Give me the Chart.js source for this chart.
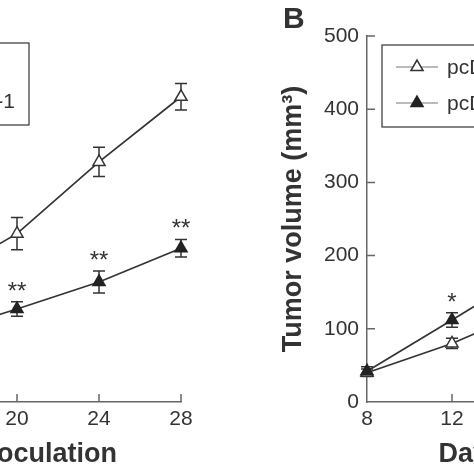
<!DOCTYPE html>
<html>
<head>
<meta charset="utf-8">
<script src="https://cdn.jsdelivr.net/npm/chart.js@4.4.1/dist/chart.umd.min.js"></script>
<style>
html, body { margin: 0; padding: 0; width: 474px; height: 474px; overflow: hidden; background: #fff; }
.panel { position: absolute; top: 0; }
#wrapA { left: -319px; width: 520px; height: 474px; }
#wrapB { left: 277px; width: 535px; height: 474px; }
</style>
</head>
<body>
<div class="panel" id="wrapA"><canvas id="chartA" width="520" height="474"></canvas></div>
<div class="panel" id="wrapB"><canvas id="chartB" width="535" height="474"></canvas></div>
<script>
// shared axis ticks
const dayTicks = [8, 12, 16, 20, 24, 28];
const volumeTicks = [0, 100, 200, 300, 400, 500];

// panel A (only the right part is in the picture)
const daysA = [16, 20, 24, 28];
const ctrlA = [165, 230, 328, 417];
const ctrlErrA = [20, 22, 20, 18];
const treatA = [92, 127, 164, 210];
const treatErrA = [10, 10, 15, 12];
const starsA = ['', '**', '**', '**'];
const labelsA = ['sh-NC', 'sh-target-1'];

// panel B (only the left part is in the picture)
const daysB = [8, 12, 16];
const ctrlB = [40, 80, 130];
const ctrlErrB = [5, 7, 10];
const treatB = [42, 112, 183];
const treatErrB = [6, 10, 12];
const starsB = ['', '*', ''];
const labelsB = ['pcDNA3.1', 'pcDNA3.1-target'];

const INK = '#333';
const AXIS = '#666';
const FONT = 'Liberation Sans, Arial, sans-serif';

const figurePlugin = {
    id: 'figure',
    beforeDatasetsDraw(chart) {
        const {ctx, scales: {x, y}} = chart;
        ctx.save();
        ctx.strokeStyle = INK;
        ctx.lineWidth = 1.5;
        chart.data.datasets.forEach(ds => {
            ds.data.forEach((p, i) => {
                const px = x.getPixelForValue(p.x);
                const top = y.getPixelForValue(p.y + ds.err[i]);
                const bot = y.getPixelForValue(p.y - ds.err[i]);
                ctx.beginPath();
                ctx.moveTo(px, top); ctx.lineTo(px, bot);
                ctx.moveTo(px - 6, top); ctx.lineTo(px + 6, top);
                ctx.moveTo(px - 6, bot); ctx.lineTo(px + 6, bot);
                ctx.stroke();
            });
        });
        // inward tick marks
        ctx.strokeStyle = AXIS;
        ctx.beginPath();
        dayTicks.slice(1).forEach(v => {
            const px = x.getPixelForValue(v);
            ctx.moveTo(px, y.bottom); ctx.lineTo(px, y.bottom - 8);
        });
        volumeTicks.slice(1).forEach(v => {
            const py = y.getPixelForValue(v);
            ctx.moveTo(x.left, py); ctx.lineTo(x.left + 8, py);
        });
        ctx.stroke();
        ctx.restore();
    },
    afterDatasetsDraw(chart) {
        const {ctx, scales: {x, y}} = chart;
        ctx.save();
        ctx.fillStyle = INK;
        ctx.font = '24px ' + FONT;
        ctx.textAlign = 'center';
        ctx.textBaseline = 'alphabetic';
        chart.data.datasets.forEach(ds => {
            if (!ds.stars) return;
            ds.data.forEach((p, i) => {
                if (!ds.stars[i]) return;
                const px = x.getPixelForValue(p.x);
                const top = y.getPixelForValue(p.y + ds.err[i]);
                ctx.fillText(ds.stars[i], px, top - 3);
            });
        });
        ctx.restore();
    },
    afterDraw(chart, args, opts) {
        const {ctx, chartArea} = chart;
        ctx.save();
        ctx.font = '21px ' + FONT;
        const dsets = chart.data.datasets;
        const textW = Math.max(...dsets.map(d => ctx.measureText(d.label).width));
        const w = 65 + textW + 14;
        const left = opts.legendRight !== undefined ? opts.legendRight - w : chartArea.left + opts.legendLeft;
        const top = chartArea.top + opts.legendTop;
        ctx.strokeStyle = INK;
        ctx.lineWidth = 1.2;
        ctx.strokeRect(left, top, w, 82);
        dsets.forEach((ds, i) => {
            const ry = top + 22 + i * 36;
            ctx.strokeStyle = '#777';
            ctx.lineWidth = 1;
            ctx.beginPath();
            ctx.moveTo(left + 14, ry); ctx.lineTo(left + 56, ry);
            ctx.stroke();
            ctx.fillStyle = ds.pointBackgroundColor;
            ctx.strokeStyle = ds.pointBorderColor;
            ctx.lineWidth = 1.5;
            Chart.helpers.drawPoint(ctx, {pointStyle: 'triangle', radius: 7, borderWidth: 1.5, rotation: 0}, left + 35, ry);
            ctx.fillStyle = INK;
            ctx.textAlign = 'left';
            ctx.textBaseline = 'middle';
            ctx.fillText(ds.label, left + 65, ry + 1);
        });
        if (opts.letter) {
            ctx.fillStyle = INK;
            ctx.font = 'bold 30px ' + FONT;
            ctx.textAlign = 'left';
            ctx.textBaseline = 'alphabetic';
            ctx.fillText(opts.letter, opts.letterX, opts.letterY);
        }
        ctx.restore();
    }
};

function makeChart(id, days, ctrl, ctrlErr, treat, treatErr, stars, labels, figOpts) {
    return new Chart(document.getElementById(id), {
        type: 'line',
        data: {
            datasets: [
                {
                    label: labels[0],
                    data: days.map((d, i) => ({x: d, y: ctrl[i]})),
                    err: ctrlErr,
                    borderColor: INK,
                    borderWidth: 1.7,
                    pointStyle: 'triangle',
                    pointRadius: 7,
                    pointBackgroundColor: '#fff',
                    pointBorderColor: INK,
                    pointBorderWidth: 1.5,
                    clip: false,
                    order: 1,
                },
                {
                    label: labels[1],
                    data: days.map((d, i) => ({x: d, y: treat[i]})),
                    err: treatErr,
                    stars: stars,
                    borderColor: INK,
                    borderWidth: 1.7,
                    pointStyle: 'triangle',
                    pointRadius: 7,
                    pointBackgroundColor: '#222',
                    pointBorderColor: '#222',
                    pointBorderWidth: 1.5,
                    clip: false,
                    order: 0,
                },
            ],
        },
        options: {
            responsive: false,
            animation: false,
            layout: {padding: {top: 36, right: 20, left: 0, bottom: 0}},
            plugins: {
                legend: {display: false},
                tooltip: {enabled: false},
                figure: figOpts,
            },
            scales: {
                x: {
                    type: 'linear',
                    min: 8,
                    max: 28,
                    afterBuildTicks: s => { s.ticks = dayTicks.map(v => ({value: v})); },
                    afterFit: s => { s.height = 72; },
                    grid: {display: false, drawTicks: false},
                    border: {color: AXIS, width: 1.5},
                    ticks: {font: {family: FONT, size: 21}, color: INK, padding: 5, maxRotation: 0},
                    title: {
                        display: true,
                        text: 'Days after inoculation',
                        font: {family: FONT, size: 27, weight: 'bold'},
                        color: INK,
                        padding: {top: 0, bottom: 3},
                    },
                },
                y: {
                    min: 0,
                    max: 500,
                    afterBuildTicks: s => { s.ticks = volumeTicks.map(v => ({value: v})); },
                    afterFit: s => { s.width = 90; },
                    grid: {display: false, drawTicks: false},
                    border: {color: AXIS, width: 1.5},
                    ticks: {font: {family: FONT, size: 21}, color: INK, padding: 8},
                    title: {
                        display: true,
                        text: 'Tumor volume (mm³)',
                        font: {family: FONT, size: 27, weight: 'bold'},
                        color: INK,
                        padding: {top: 0, bottom: 0},
                    },
                },
            },
        },
        plugins: [figurePlugin],
    });
}

makeChart('chartA', daysA, ctrlA, ctrlErrA, treatA, treatErrA, starsA, labelsA,
    {legendRight: 348, legendTop: 7, letter: 'A', letterX: 6, letterY: 28});
makeChart('chartB', daysB, ctrlB, ctrlErrB, treatB, treatErrB, starsB, labelsB,
    {legendLeft: 15, legendTop: 9, letter: 'B', letterX: 6, letterY: 28});
</script>
</body>
</html>
